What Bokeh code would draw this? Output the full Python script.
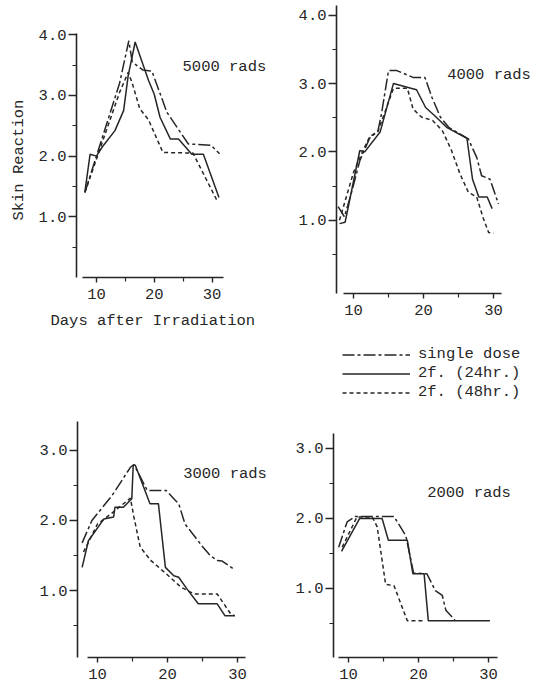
from bokeh.plotting import figure
from bokeh.layouts import row, column
from bokeh.models import (FixedTicker, PrintfTickFormatter, Label, Legend,
                          LegendItem, Range1d, Title)
from bokeh.embed import file_html
from bokeh.resources import INLINE

FONT = "Liberation Mono"
INK = "#262626"
FS = "15.5px"

series_names = ["single dose", "2f. (24hr.)", "2f. (48hr.)"]
series_dash = ["12 3 3 3", "solid", "4 3"]
doses = ["5000 rads", "4000 rads", "3000 rads", "2000 rads"]
x_tick_values = [10, 20, 30]
x_minor_values = [15, 25]

# ---- 5000 rads ----
s5000_single_x = [8, 10, 12, 14, 15.6, 16.2, 18, 19.6, 22.2, 25.9, 29.8, 31.3]
s5000_single_y = [1.4, 2.0, 2.6, 3.2, 3.9, 3.55, 3.42, 3.4, 2.72, 2.2, 2.18, 2.04]
s5000_h24_x = [8, 8.9, 10, 11, 13.2, 14.7, 15.5, 16.7, 19, 20, 21, 22.8, 24.2, 26.5, 28.5, 31.2]
s5000_h24_y = [1.41, 2.03, 2.0, 2.15, 2.42, 2.75, 3.33, 3.88, 3.25, 3.02, 2.64, 2.28, 2.28, 2.03, 2.03, 1.32]
s5000_h48_x = [8, 10, 12, 14, 15.5, 16.2, 17.5, 19, 21.5, 26.7, 30.8]
s5000_h48_y = [1.4, 1.95, 2.5, 3.05, 3.38, 3.2, 2.78, 2.6, 2.06, 2.05, 1.28]

# ---- 4000 rads ----
s4000_single_x = [7.8, 8.7, 9.7, 10.9, 12.3, 13.5, 14, 15, 16.2, 18.5, 20.2, 21.2, 22.4, 23.6, 26.4, 27.6, 28.3, 29.5, 30.7]
s4000_single_y = [1.2, 1.05, 1.4, 1.87, 2.2, 2.31, 2.56, 3.19, 3.19, 3.09, 3.09, 2.8, 2.51, 2.36, 2.19, 1.92, 1.65, 1.6, 1.24]
s4000_h24_x = [8, 8.8, 10.9, 11.6, 13.8, 15.7, 19, 20.3, 21.6, 23.3, 26.2, 27, 27.9, 29.1, 29.8]
s4000_h24_y = [0.95, 0.97, 2.02, 2.0, 2.29, 3.0, 2.91, 2.65, 2.53, 2.36, 2.2, 1.6, 1.34, 1.34, 1.17]
s4000_h48_x = [8, 10, 11.5, 12.3, 13.5, 15.7, 17.7, 18.5, 19.7, 21.3, 22.7, 24, 25.2, 26.4, 27.6, 28.5, 29.3, 30]
s4000_h48_y = [1.0, 1.7, 2.05, 2.22, 2.3, 2.93, 2.93, 2.63, 2.51, 2.46, 2.31, 2.02, 1.68, 1.41, 1.34, 1.04, 0.82, 0.81]

# ---- 3000 rads ----
s3000_single_x = [7.8, 9.2, 12.1, 14.7, 15.2, 17.1, 19.8, 21.1, 21.6, 22.5, 23.2, 24.9, 26.1, 27.1, 27.8, 29.4]
s3000_single_y = [1.68, 2.0, 2.36, 2.76, 2.8, 2.43, 2.43, 2.29, 2.24, 1.95, 1.86, 1.64, 1.5, 1.43, 1.42, 1.31]
s3000_h24_x = [7.8, 8.7, 10.9, 12.3, 12.5, 13.7, 14.9, 15.1, 15.4, 17.5, 18.7, 19.7, 20.9, 21.6, 22.8, 24.4, 27.1, 28.2, 29.6]
s3000_h24_y = [1.33, 1.71, 2.02, 2.05, 2.19, 2.19, 2.31, 2.79, 2.79, 2.24, 2.24, 1.33, 1.21, 1.19, 1.02, 0.81, 0.81, 0.64, 0.64]
s3000_h48_x = [8, 10, 12, 14.7, 15.2, 16.1, 17.6, 19.8, 21.9, 23.8, 27.1, 29, 29.6]
s3000_h48_y = [1.55, 1.95, 2.1, 2.32, 2.05, 1.62, 1.43, 1.24, 1.05, 0.95, 0.95, 0.67, 0.64]

# ---- 2000 rads ----
s2000_single_x = [8.6, 9.8, 11, 16.5, 18.2, 19.3, 21.2, 22.4, 23.4, 23.9, 25.2]
s2000_single_y = [1.59, 1.95, 2.03, 2.03, 1.75, 1.22, 1.21, 0.97, 0.9, 0.69, 0.55]
s2000_h24_x = [9, 11.6, 14.8, 15.7, 18.4, 19.2, 20.8, 21.4, 30.2]
s2000_h24_y = [1.53, 2.0, 2.0, 1.69, 1.69, 1.21, 1.21, 0.54, 0.54]
s2000_h48_x = [9.1, 11.2, 13.4, 14.1, 14.6, 15.3, 16.5, 18.4, 20.8]
s2000_h48_y = [1.59, 2.02, 2.02, 1.88, 1.54, 1.06, 1.04, 0.54, 0.54]

panel_data = [
    [(s5000_single_x, s5000_single_y), (s5000_h24_x, s5000_h24_y), (s5000_h48_x, s5000_h48_y)],
    [(s4000_single_x, s4000_single_y), (s4000_h24_x, s4000_h24_y), (s4000_h48_x, s4000_h48_y)],
    [(s3000_single_x, s3000_single_y), (s3000_h24_x, s3000_h24_y), (s3000_h48_x, s3000_h48_y)],
    [(s2000_single_x, s2000_single_y), (s2000_h24_x, s2000_h24_y), (s2000_h48_x, s2000_h48_y)],
]

# layout (sizes, borders, ranges, label anchor)
layouts = [
    dict(w=290, h=406, bl=76, br=5, bt=33, bb=129, xr=(6.55, 42.71), yr=(0.0, 4.02),
         xb=(7.6, 31.9), yt=[1, 2, 3, 4], ym=[0.5, 1.5, 2.5, 3.5], lab=(24.9, 3.46)),
    dict(w=246, h=330, bl=46, br=0, bt=5, bb=37, xr=(7.57, 36.14), yr=(-0.073, 4.143),
         xb=(8.57, 31.1), yt=[1, 2, 3, 4], ym=[0.5, 1.5, 2.5, 3.5], lab=(23.38, 3.12)),
    dict(w=290, h=278, bl=77, br=5, bt=15, bb=27, xr=(7.14, 36.86), yr=(0.043, 3.414),
         xb=(8.5, 31.1), yt=[1, 2, 3], ym=[0.5, 1.5, 2.5], lab=(22.24, 2.67)),
    dict(w=246, h=278, bl=43, br=0, bt=27, bb=27, xr=(7.857, 36.857), yr=(0.014, 3.214),
         xb=(8.57, 31.3), yt=[1, 2, 3], ym=[0.5, 1.5, 2.5], lab=(21.24, 2.36)),
]


def style_axis(ax):
    ax.axis_line_color = INK
    ax.axis_line_width = 1.6
    ax.major_tick_line_color = INK
    ax.minor_tick_line_color = INK
    ax.major_tick_line_width = 1.4
    ax.minor_tick_line_width = 1.2
    ax.major_tick_in = 0
    ax.minor_tick_in = 0
    ax.major_label_text_font = FONT
    ax.major_label_text_font_size = FS
    ax.major_label_text_color = INK
    ax.axis_label_text_font = FONT
    ax.axis_label_text_font_size = FS
    ax.axis_label_text_font_style = "normal"
    ax.axis_label_text_color = INK


def make_panel(i):
    L = layouts[i]
    p = figure(width=L["w"], height=L["h"], output_backend="svg", toolbar_location=None,
               x_range=Range1d(*L["xr"]), y_range=Range1d(*L["yr"]),
               min_border_left=L["bl"], min_border_right=L["br"],
               min_border_top=L["bt"], min_border_bottom=L["bb"], frame_align=False)
    p.outline_line_color = None
    p.grid.visible = False
    p.background_fill_color = "white"
    p.border_fill_color = "white"

    xa = p.xaxis[0]
    xa.ticker = FixedTicker(ticks=x_tick_values, minor_ticks=x_minor_values)
    xa.bounds = L["xb"]
    ya = p.yaxis[0]
    ya.ticker = FixedTicker(ticks=L["yt"], minor_ticks=L["ym"])
    ya.formatter = PrintfTickFormatter(format="%.1f")
    style_axis(xa)
    style_axis(ya)
    xa.major_tick_out = 5
    xa.minor_tick_out = 4
    xa.major_label_standoff = 6
    ya.major_tick_out = 8
    ya.minor_tick_out = 4
    ya.major_label_standoff = 2

    rends = []
    for (xs, ys), dash in zip(panel_data[i], series_dash):
        r = p.line(xs, ys, line_color=INK, line_width=1.5, line_dash=dash)
        rends.append(r)

    p.add_layout(Label(x=L["lab"][0], y=L["lab"][1], text=doses[i], text_font=FONT,
                       text_font_size=FS, text_color=INK, text_baseline="middle"))
    return p, rends


p1, r1 = make_panel(0)
p1.yaxis[0].axis_label = "Skin  Reaction"
p1.yaxis[0].axis_label_standoff = 8
p1.add_layout(Title(text="Days after Irradiation", align="left", offset=-26, standoff=16,
                    text_font=FONT, text_font_size=FS, text_font_style="normal",
                    text_color=INK), "below")

p2, r2 = make_panel(1)

# legend box (own small canvas under the 4000 rads panel); its line renderers
# carry the 4000 rads series but lie outside this canvas' visible range
lf = figure(width=246, height=76, output_backend="svg", toolbar_location=None,
            x_axis_type=None, y_axis_type=None, min_border=0, frame_align=False,
            x_range=Range1d(100, 101), y_range=Range1d(100, 101))
lf.outline_line_color = None
lf.grid.visible = False
lrs = [lf.line(xs, ys, line_color=INK, line_width=1.5, line_dash=d)
       for (xs, ys), d in zip(panel_data[1], series_dash)]
legend = Legend(items=[LegendItem(label=n, renderers=[r]) for n, r in zip(series_names, lrs)],
                location=(52, 5), margin=0, padding=0, spacing=1,
                glyph_width=68, glyph_height=15, label_height=15, label_standoff=8,
                label_text_font=FONT, label_text_font_size=FS, label_text_color=INK,
                border_line_color=None, background_fill_alpha=0)
lf.add_layout(legend)

p3, _ = make_panel(2)
p4, _ = make_panel(3)

layout = column(row(p1, column(p2, lf)), row(p3, p4))
open("out.html", "w").write(file_html(layout, INLINE))
